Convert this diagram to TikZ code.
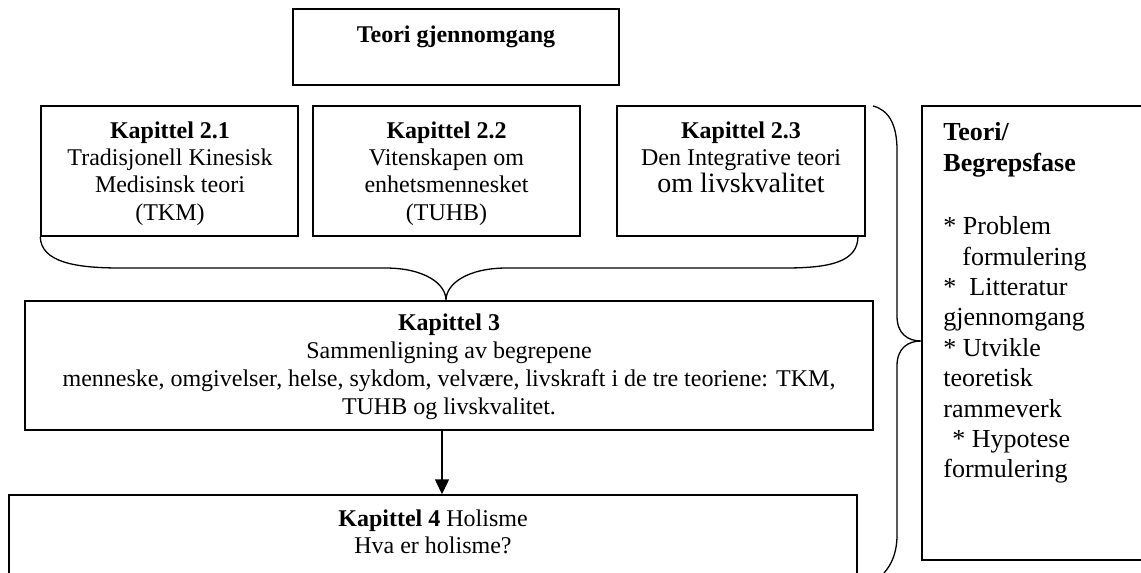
\documentclass[tikz,border=0pt]{standalone}
\usepackage{fontspec}
\setmainfont{Liberation Serif}
\usetikzlibrary{fit,arrows.meta}
\begin{document}
\begin{tikzpicture}[x=0.5pt,y=-0.5pt,
  box/.style={draw,line width=0.75pt,inner sep=0pt,rectangle},
  bracepath/.style={line width=0.65pt},
  ctext/.style={inner sep=0pt,align=center,anchor=north,execute at begin node=\strut},
  ftwo/.style={font=\fontsize{12}{13.6}\selectfont},
  fthree/.style={font=\fontsize{12}{13.9}\selectfont},
  ffour/.style={font=\fontsize{12}{13.6}\selectfont},
  arr/.style={line width=0.75pt,-{Triangle[length=7.5pt,width=7pt]}}]
\useasboundingbox (0,0) rectangle (1141,573);
\clip (0,0) rectangle (1141,573);
% boxes
\node[box,fit={(293,9) (619,85)}] (teori) {};
\node[box,fit={(41,106) (298,236)}] (k21) {};
\node[box,fit={(313,106) (580,236)}] (k22) {};
\node[box,fit={(617,106) (865,236)}] (k23) {};
\node[box,fit={(25,301) (873,430)}] (k3) {};
\node[box,fit={(9,495) (857,640)}] (k4) {};
\node[box,fit={(922,106) (1180,560)}] (fase) {};
% texts
\node[inner sep=0pt,anchor=base,font=\fontsize{12}{13.4}\selectfont\bfseries] (teorit) at (456,42) {Teori gjennomgang};
\node[ctext,ftwo] (k21t) at (170,121.5) {\textbf{Kapittel 2.1}\\Tradisjonell Kinesisk\\Medisinsk teori\\(TKM)};
\node[ctext,ftwo] (k22t) at (446.5,121.5) {\textbf{Kapittel 2.2}\\Vitenskapen om\\enhetsmennesket\\(TUHB)};
\node[ctext,ftwo] (k23t) at (741,121.5) {\textbf{Kapittel 2.3}\\Den Integrative teori\\{\fontsize{14}{13.6}\selectfont om livskvalitet}};
\node[ctext,fthree] (k3t) at (449,313.8) {\textbf{Kapittel 3}\\Sammenligning av begrepene\\menneske, omgivelser, helse, sykdom, velvære, livskraft i de tre teoriene: TKM,\\TUHB og livskvalitet.};
\node[ctext,ffour] (k4t) at (433,509) {\textbf{Kapittel 4} Holisme\\Hva er holisme?};
\node[inner sep=0pt,align=left,anchor=north west,font=\fontsize{13}{15.2}\selectfont,execute at begin node=\strut] (faset) at (943,122.5)
  {\textbf{Teori/}\\\textbf{Begrepsfase}\\[16.5pt]* Problem\\\hspace*{9.5pt}formulering\\*\ \ Litteratur\\gjennomgang\\* Utvikle\\teoretisk\\rammeverk\\\hspace*{4.5pt}* Hypotese\\formulering};
% bottom brace: Kapittel 2.x -> Kapittel 3
\coordinate (bl) at (k21.south west);
\coordinate (br) at (858,236);
\coordinate (btip) at (k3.north -| 446,0);
\draw[bracepath] (bl) .. controls (41,262) and (75,268) .. (120,268) -- (385,268)
  .. controls (425,268) and (446,284) .. (btip)
  .. controls (446,284) and (467,268) .. (507,268) -- (785,268)
  .. controls (830,268) and (858,262) .. (br);
% right brace
\coordinate (rt) at (873,106);
\coordinate (rb) at (884,573);
\coordinate (rtip) at (fase.west |- 0,341);
\draw[bracepath] (rt) .. controls (889,110) and (897,125) .. (897,150) -- (897,316)
  .. controls (897,334) and (908,341) .. (rtip)
  .. controls (908,341) and (897,348) .. (897,366) -- (897,535)
  .. controls (897,552) and (892,564) .. (rb);
% arrow
\coordinate (ax) at (442,0);
\draw[arr] (ax |- k3.south) -- (ax |- k4.north);
\end{tikzpicture}
\end{document}
